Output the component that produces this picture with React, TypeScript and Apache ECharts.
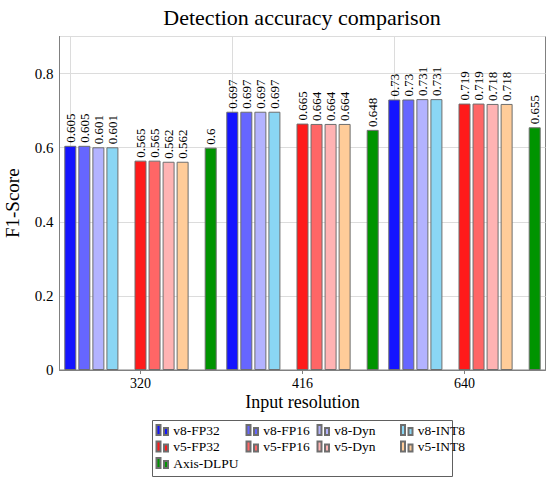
import React, { useEffect, useRef } from "react";
import * as echarts from "echarts";

const categories = ["320", "416", "640"];
const yTicks = [0, 0.2, 0.4, 0.6, 0.8];

const v8FP32 = [0.605, 0.697, 0.73];
const v8FP16 = [0.605, 0.697, 0.73];
const v8Dyn = [0.601, 0.697, 0.731];
const v8INT8 = [0.601, 0.697, 0.731];
const v5FP32 = [0.565, 0.665, 0.719];
const v5FP16 = [0.565, 0.664, 0.719];
const v5Dyn = [0.562, 0.664, 0.718];
const v5INT8 = [0.562, 0.664, 0.718];
const axisDLPU = [0.6, 0.648, 0.655];

const FONT = "Liberation Serif";

type S = { name: string; data: (number | null)[]; color: string } | null;

const layout: S[] = [
  { name: "v8-FP32", data: v8FP32, color: "#1414ff" },
  { name: "v8-FP16", data: v8FP16, color: "#6666ff" },
  { name: "v8-Dyn", data: v8Dyn, color: "#b3b3ff" },
  { name: "v8-INT8", data: v8INT8, color: "#8ad6f4" },
  null,
  { name: "v5-FP32", data: v5FP32, color: "#ff1a1a" },
  { name: "v5-FP16", data: v5FP16, color: "#ff6666" },
  { name: "v5-Dyn", data: v5Dyn, color: "#ffb3b3" },
  { name: "v5-INT8", data: v5INT8, color: "#ffcc99" },
  null,
  { name: "Axis-DLPU", data: axisDLPU, color: "#009400" },
];

const legendCols = [
  { names: ["v8-FP32", "v5-FP32", "Axis-DLPU"], left: 155.5 },
  { names: ["v8-FP16", "v5-FP16"], left: 245.5 },
  { names: ["v8-Dyn", "v5-Dyn"], left: 316.5 },
  { names: ["v8-INT8", "v5-INT8"], left: 400 },
];

export default function App() {
  const ref = useRef<HTMLDivElement>(null);
  useEffect(() => {
    if (!ref.current) return;
    const chart = echarts.init(ref.current, undefined, { renderer: "svg" });
    const series: any[] = layout.map((s, i) => {
      if (!s) {
        return {
          type: "bar",
          name: "spacer" + i,
          data: categories.map(() => null),
          barWidth: 12,
          barGap: "17%",
          silent: true,
        };
      }
      const item: any = {
        type: "bar",
        name: s.name,
        data: s.data,
        barWidth: 12,
        barGap: "17%",
        itemStyle: { color: s.color, borderColor: "#6e6e6e", borderWidth: 1 },
        label: {
          show: true,
          position: "top",
          rotate: 90,
          align: "left",
          verticalAlign: "middle",
          distance: 3,
          fontFamily: FONT,
          fontSize: 13,
          color: "#000",
          formatter: (p: any) => String(p.value),
        },
      };
      if (i === 0) {
        item.markLine = {
          silent: true,
          z: 1,
          symbol: ["none", "none"],
          label: { show: false },
          lineStyle: { color: "#dcdcdc", type: "solid", width: 1 },
          data: categories.map((c) => ({ xAxis: c })),
        };
      }
      return item;
    });

    chart.setOption({
      animation: false,
      textStyle: { fontFamily: FONT },
      title: {
        text: "Detection accuracy comparison",
        left: 297,
        top: 1,
        textAlign: "center",
        textStyle: { fontFamily: FONT, fontSize: 22, fontWeight: "normal", color: "#000" },
      },
      grid: {
        left: 59.5,
        right: 4.5,
        top: 36.5,
        bottom: 111,
        show: true,
        borderColor: "#808080",
        borderWidth: 1,
        outerBoundsMode: "none",
        containLabel: false,
      },
      legend: legendCols.map((c) => ({
        data: c.names,
        orient: "vertical",
        left: c.left,
        top: 423,
        padding: 0,
        itemGap: 2.5,
        itemWidth: 12,
        itemHeight: 10,
        icon: "path://M0,0h4v10h-4z M7.5,3h4v7h-4z",
        textStyle: { fontFamily: FONT, fontSize: 13.5, lineHeight: 14, color: "#000" },
      })),
      xAxis: {
        type: "category",
        data: categories,
        name: "Input resolution",
        nameLocation: "middle",
        nameGap: 22.5,
        nameMoveOverlap: false,
        nameTextStyle: { fontFamily: FONT, fontSize: 18, lineHeight: 18, color: "#000" },
        axisLine: { lineStyle: { color: "#808080" } },
        axisTick: { show: true, alignWithLabel: true, length: 4, lineStyle: { color: "#808080" } },
        axisLabel: { fontFamily: FONT, fontSize: 14, lineHeight: 15, color: "#000", margin: 6 },
        splitLine: { show: false },
      },
      yAxis: {
        type: "value",
        min: 0,
        max: 0.9,
        interval: 0.2,
        name: "F1-Score",
        nameLocation: "middle",
        nameGap: 38,
        nameTextStyle: { fontFamily: FONT, fontSize: 19, color: "#000" },
        axisLine: { show: true, lineStyle: { color: "#808080" } },
        axisTick: { show: false },
        axisLabel: {
          fontFamily: FONT,
          fontSize: 15,
          color: "#000",
          margin: 6,
          formatter: (v: number) => {
            const t = yTicks.find((k) => Math.abs(k - v) < 1e-6);
            return t === undefined ? "" : String(t);
          },
        },
        splitLine: { show: true, lineStyle: { color: "#dcdcdc" } },
      },
      graphic: [
        {
          type: "rect",
          shape: { x: 152.5, y: 420.5, width: 300, height: 56 },
          style: { fill: "none", stroke: "#606060", lineWidth: 1 },
          silent: true,
        },
      ],
      series,
    });
    return () => chart.dispose();
  }, []);
  return (
    <div
      ref={ref}
      style={{ position: "fixed", left: 0, top: 0, width: 550, height: 481, background: "#fff" }}
    />
  );
}
